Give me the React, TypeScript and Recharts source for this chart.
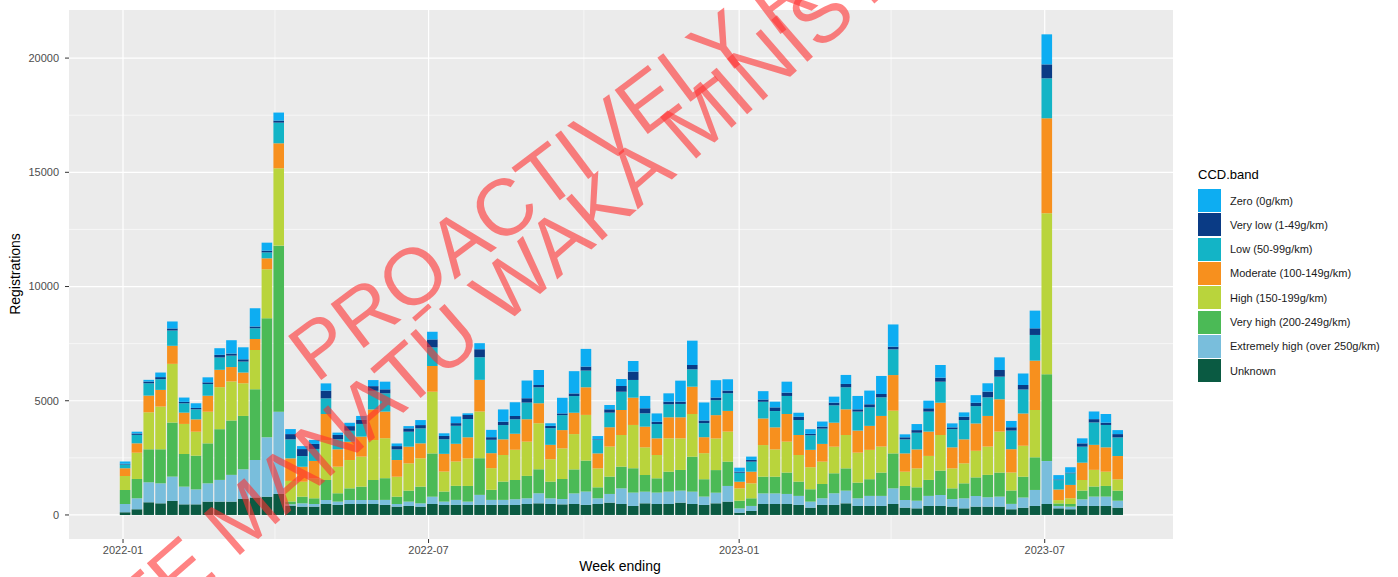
import { BarChart, Bar, XAxis, YAxis, CartesianGrid } from 'recharts';

// weekly registrations by CO2 band, week ending Sundays from 2 Jan 2022
const firstWeek = Date.UTC(2022, 0, 2);
const DAY = 86400000;

const unknown = [
  117, 250, 555, 510, 615, 465, 465, 585, 585, 585,
  700, 760, 800, 920, 410, 365, 365, 480, 440, 480,
  480, 480, 440, 365, 395, 365, 480, 440, 440, 440,
  440, 440, 440, 440, 480, 510, 480, 465, 480, 440,
  480, 540, 480, 395, 510, 480, 480, 540, 480, 440,
  510, 585, 100, 175, 480, 480, 480, 440, 320, 440,
  440, 510, 395, 395, 395, 480, 320, 290, 395, 395,
  365, 290, 365, 365, 365, 250, 320, 395, 480, 290,
  250, 395, 395, 395, 320,
];
const extremelyHigh = [
  365, 480, 875, 875, 1065, 775, 655, 800, 950, 1170,
  1300, 1650, 2600, 3600, 60, 145, 115, 175, 145, 175,
  175, 175, 220, 115, 190, 145, 320, 145, 220, 145,
  440, 220, 220, 250, 250, 440, 250, 235, 465, 585,
  250, 380, 685, 585, 510, 500, 540, 525, 540, 365,
  465, 685, 190, 220, 465, 465, 440, 395, 265, 290,
  510, 555, 335, 440, 440, 685, 335, 335, 440, 480,
  335, 440, 465, 410, 440, 235, 450, 700, 1880, 100,
  115, 290, 410, 410, 305,
];
const veryHigh = [
  613, 846, 1445, 1490, 2365, 1430, 1475, 1750, 2220, 2380,
  2335, 3090, 5210, 7270, 120, 290, 250, 875, 365, 510,
  585, 875, 950, 320, 480, 730, 1895, 440, 615, 685,
  1605, 440, 800, 845, 980, 1050, 730, 875, 1050, 1355,
  480, 760, 950, 1065, 730, 625, 875, 905, 1530, 760,
  990, 1065, 335, 335, 730, 730, 935, 625, 540, 625,
  875, 975, 685, 730, 1020, 1530, 615, 585, 700, 1065,
  465, 655, 815, 980, 1050, 585, 905, 1430, 3805, 115,
  115, 380, 440, 465, 440,
];
const high = [
  613, 1150, 1620, 1870, 2570, 1315, 1050, 1385, 1840, 1710,
  1430, 1720, 2145, 3385, 900, 655, 875, 1750, 1165, 1240,
  1315, 1750, 1750, 875, 1195, 1240, 2700, 875, 1065, 1210,
  2045, 950, 1165, 1315, 1500, 2015, 980, 1340, 1545, 2000,
  830, 1315, 1385, 1895, 1210, 1020, 1460, 1385, 1870, 1140,
  1385, 1315, 540, 655, 1385, 1195, 1355, 1165, 965, 980,
  1165, 1460, 1315, 1285, 1140, 1870, 625, 830, 1050, 1560,
  875, 875, 1165, 1240, 1795, 790, 1355, 2070, 7045, 145,
  250, 465, 730, 625, 495,
];
const moderate = [
  336, 410, 730, 730, 790, 495, 540, 700, 760, 630,
  470, 480, 480, 1095, 990, 655, 760, 1140, 760, 800,
  875, 1340, 1165, 730, 730, 655, 1125, 775, 775, 920,
  1385, 655, 685, 700, 980, 875, 630, 800, 935, 1210,
  655, 845, 1095, 1195, 905, 730, 920, 920, 1195, 700,
  1020, 905, 290, 510, 1165, 965, 1210, 875, 760, 775,
  1050, 1125, 965, 1050, 1340, 1560, 800, 830, 1065, 1415,
  920, 1050, 1195, 1340, 1415, 1020, 1415, 2160, 4155, 465,
  585, 760, 1095, 1065, 1020,
];
const low = [
  170, 370, 540, 470, 670, 410, 440, 510, 540, 500,
  480, 470, 260, 905, 830, 470, 525, 685, 440, 480,
  555, 815, 800, 465, 655, 655, 815, 640, 790, 800,
  990, 585, 625, 640, 730, 700, 730, 655, 730, 730,
  585, 640, 800, 775, 585, 625, 570, 585, 760, 615,
  655, 775, 395, 440, 730, 715, 790, 655, 640, 670,
  760, 965, 830, 815, 815, 1125, 615, 730, 875, 920,
  800, 845, 760, 815, 990, 815, 1050, 1125, 1750, 410,
  510, 700, 980, 980, 815,
];
const veryLow = [
  30, 60, 75, 90, 90, 60, 60, 75, 115, 90,
  100, 75, 75, 90, 230, 305, 220, 335, 190, 205,
  175, 205, 175, 145, 145, 145, 350, 145, 115, 175,
  350, 115, 145, 145, 190, 100, 100, 75, 115, 175,
  30, 145, 250, 365, 220, 100, 115, 100, 190, 115,
  115, 115, 45, 75, 100, 160, 145, 145, 60, 90,
  115, 145, 100, 130, 145, 115, 90, 115, 145, 175,
  75, 145, 145, 250, 290, 145, 190, 290, 610, 30,
  30, 145, 145, 100, 145,
];
const zero = [
  100, 80, 75, 200, 305, 190, 205, 220, 290, 585,
  525, 800, 350, 350, 220, 130, 175, 320, 100, 145,
  175, 265, 335, 115, 100, 220, 335, 115, 290, 75,
  265, 320, 540, 600, 775, 655, 115, 685, 975, 775,
  145, 190, 305, 465, 540, 365, 365, 920, 1065, 790,
  760, 495, 175, 145, 365, 250, 480, 175, 205, 220,
  265, 395, 585, 600, 790, 975, 130, 265, 335, 555,
  175, 190, 335, 365, 555, 275, 510, 775, 1315, 190,
  235, 220, 335, 380, 175,
];

const dateTicks = [Date.UTC(2022, 0, 1), Date.UTC(2022, 6, 1), Date.UTC(2023, 0, 1), Date.UTC(2023, 6, 1)];
const minorDates = [Date.UTC(2022, 3, 1), Date.UTC(2022, 9, 1), Date.UTC(2023, 3, 1)];
const yTicks = [0, 5000, 10000, 15000, 20000];
const yMinor = [2500, 7500, 12500, 17500];

// stack order, bottom first
const bands = [
  { key: 'unknown', name: 'Unknown', color: '#0A5A42', values: unknown },
  { key: 'extremelyHigh', name: 'Extremely high (over 250g/km)', color: '#79BEDC', values: extremelyHigh },
  { key: 'veryHigh', name: 'Very high (200-249g/km)', color: '#4BBA56', values: veryHigh },
  { key: 'high', name: 'High (150-199g/km)', color: '#B9D43C', values: high },
  { key: 'moderate', name: 'Moderate (100-149g/km)', color: '#F7901E', values: moderate },
  { key: 'low', name: 'Low (50-99g/km)', color: '#13B4C6', values: low },
  { key: 'veryLow', name: 'Very low (1-49g/km)', color: '#0A3B85', values: veryLow },
  { key: 'zero', name: 'Zero (0g/km)', color: '#0DADF2', values: zero },
];

const data = unknown.map((_, i) => {
  const row: Record<string, number> = { t: firstWeek + i * 7 * DAY };
  bands.forEach((b) => { row[b.key] = b.values[i]; });
  return row;
});

const fmtMonth = (t: number) => {
  const d = new Date(t);
  return `${d.getUTCFullYear()}-${String(d.getUTCMonth() + 1).padStart(2, '0')}`;
};

const font = '"Liberation Sans", Arial, sans-serif';
const tick = { fontSize: 11, fill: '#4D4D4D', fontFamily: font };

export default function App() {
  return (
    <div style={{ position: 'absolute', left: 0, top: 0, width: 1398, height: 577, background: '#fff', fontFamily: font }}>
      <BarChart width={1398} height={577} data={data} margin={{ top: 10, right: 225, bottom: 0, left: 0 }}>
        <CartesianGrid fill="#EBEBEB" stroke="#fff" strokeWidth={0.6} horizontalValues={yMinor} verticalValues={minorDates} />
        <CartesianGrid stroke="#fff" strokeWidth={1.2} horizontalValues={yTicks} verticalValues={dateTicks} />
        <XAxis
          dataKey="t"
          type="number"
          domain={[Date.UTC(2021, 10, 30), Date.UTC(2023, 8, 15)]}
          allowDataOverflow
          ticks={dateTicks}
          tickFormatter={fmtMonth}
          tick={tick}
          tickSize={4}
          tickMargin={3}
          tickLine={{ stroke: '#333' }}
          axisLine={false}
          height={38}
        />
        <YAxis
          type="number"
          domain={[-1052, 22105]}
          allowDataOverflow
          ticks={yTicks}
          tick={tick}
          tickSize={4}
          tickMargin={6}
          tickLine={{ stroke: '#333' }}
          axisLine={false}
          width={69}
        />
        {bands.map((b) => (
          <Bar key={b.key} dataKey={b.key} name={b.name} stackId="a" fill={b.color} barSize={10.6} isAnimationActive={false} />
        ))}
      </BarChart>

      <div style={{ position: 'absolute', left: 420, width: 400, top: 558, textAlign: 'center', fontSize: 14, color: '#000' }}>Week ending</div>
      <div style={{ position: 'absolute', left: -40, width: 110, top: 266, textAlign: 'center', fontSize: 14, color: '#000', transform: 'rotate(-90deg)' }}>Registrations</div>

      <div style={{ position: 'absolute', left: 1198, top: 167, fontSize: 13, color: '#000' }}>CCD.band</div>
      {[...bands].reverse().map((b, k) => (
        <div key={b.key} style={{ position: 'absolute', left: 1198, top: 189 + k * 24.3, height: 23, display: 'flex', alignItems: 'center' }}>
          <div style={{ width: 23, height: 23, background: b.color }} />
          <span style={{ marginLeft: 9, fontSize: 11, color: '#1A1A1A', whiteSpace: 'nowrap' }}>{b.name}</span>
        </div>
      ))}

      <svg width={1398} height={577} style={{ position: 'absolute', left: 0, top: 0, pointerEvents: 'none' }}>
        <g fill="#FF3030" fillOpacity={0.6} fontFamily={font} fontSize={80}>
          <text x={316} y={384} transform="rotate(-37 316 384)">PROACTIVELY RELEASED BY</text>
          <text x={141} y={641} transform="rotate(-41 141 641)">TE MANATŪ WAKA MINISTRY OF TRANSPORT</text>
        </g>
      </svg>
    </div>
  );
}
